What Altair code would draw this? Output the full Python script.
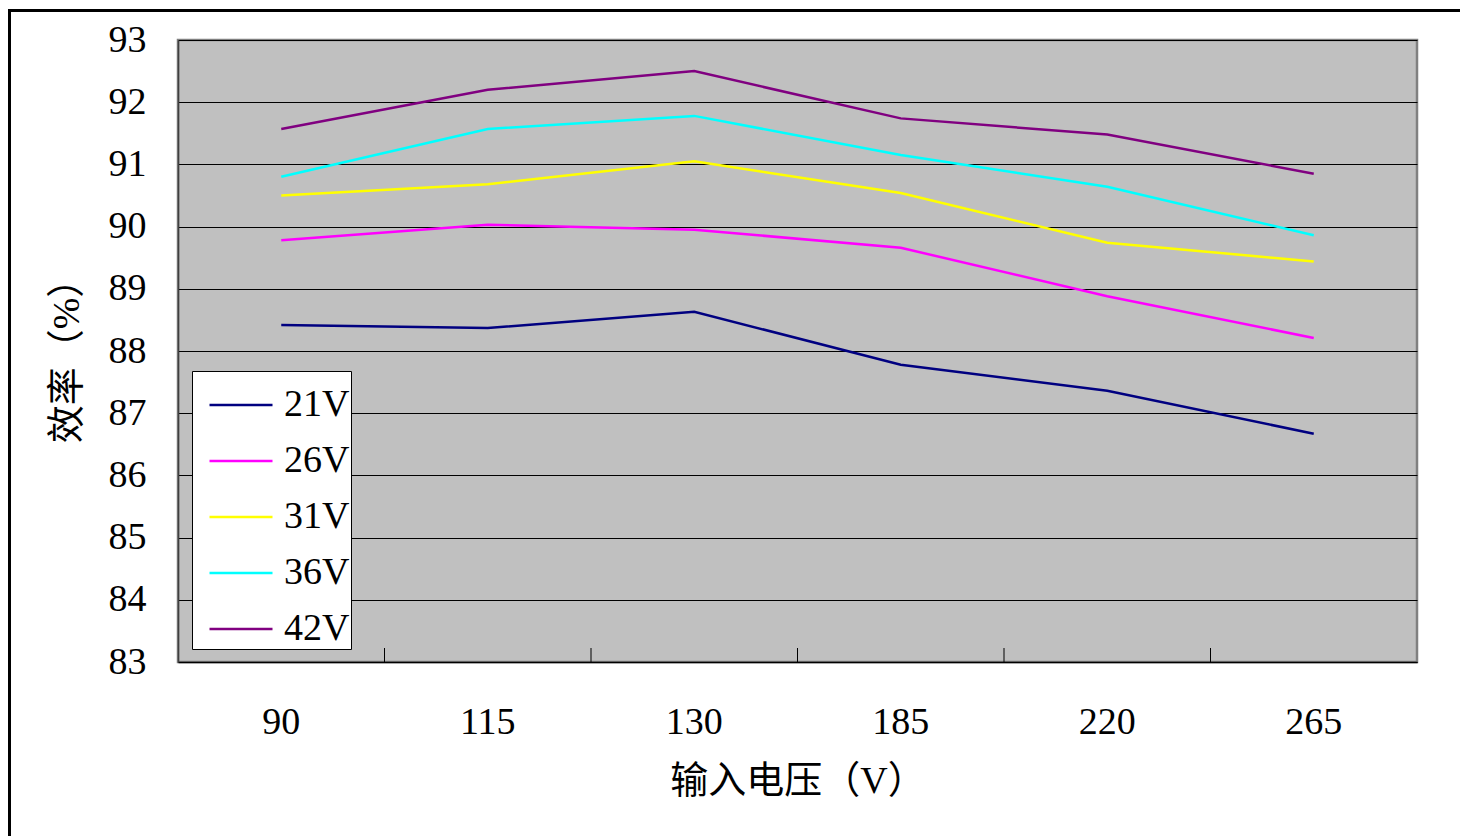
import altair as alt
import pandas as pd

vin_labels = ["90", "115", "130", "185", "220", "265"]
series_names = ["21V", "26V", "31V", "36V", "42V"]
eff_21 = [88.42, 88.37, 88.63, 87.78, 87.36, 86.67]
eff_26 = [89.78, 90.03, 89.95, 89.66, 88.88, 88.21]
eff_31 = [90.50, 90.68, 91.05, 90.54, 89.74, 89.44]
eff_36 = [90.80, 91.57, 91.78, 91.15, 90.64, 89.86]
eff_42 = [91.57, 92.20, 92.50, 91.74, 91.48, 90.85]
series_colors = ["#000080", "#FF00FF", "#FFFF00", "#00FFFF", "#800080"]
y_ticks = list(range(83, 94))

rows = []
for name, vals in zip(series_names, [eff_21, eff_26, eff_31, eff_36, eff_42]):
    for v, e in zip(vin_labels, vals):
        rows.append({"vin": v, "eff": e, "series": name})
df = pd.DataFrame(rows)

FONT = "Liberation Serif, Noto Sans CJK SC"
W, H = 1239, 622

xscale = alt.Scale(type="band", paddingInner=0, paddingOuter=0)

lines = alt.Chart(df).mark_line(strokeWidth=2.5).encode(
    x=alt.X("vin:N", sort=vin_labels, scale=xscale,
            axis=alt.Axis(title="输入电压（V）", labelAngle=0, labelAlign="center",
                          labelBaseline="top", tickSize=0,
                          labelPadding=41, labelFontSize=38, labelFont=FONT,
                          labelColor="black", titleFont=FONT, titleFontSize=38,
                          titleFontWeight="normal", titleColor="black",
                          titlePadding=21, domainColor="black", domainWidth=1.5)),
    y=alt.Y("eff:Q", scale=alt.Scale(domain=[83, 93], nice=False, zero=False),
            axis=alt.Axis(title="效率（%）", values=y_ticks, format="d", tickSize=0,
                          labelPadding=32, labelFontSize=38, labelFont=FONT,
                          labelColor="black", titleFont=FONT, titleFontSize=38,
                          titleFontWeight="normal", titleColor="black",
                          titlePadding=22, grid=True, gridColor="black",
                          gridWidth=1, domainColor="#404040", domainWidth=1.5)),
    color=alt.Color("series:N", sort=series_names,
                    scale=alt.Scale(domain=series_names, range=series_colors),
                    legend=alt.Legend(title=None, orient="none", legendX=14, legendY=331,
                                      fillColor="white", strokeColor="black",
                                      padding=1, symbolOffset=15, symbolType="stroke",
                                      symbolSize=3969, symbolStrokeWidth=2.5,
                                      labelFontSize=38, labelFont=FONT,
                                      labelColor="black", labelOffset=10,
                                      rowPadding=4)),
)

ticks = alt.Chart(pd.DataFrame({"vin": vin_labels[1:]})).mark_rule(
    color="black", strokeWidth=1
).encode(
    x=alt.X("vin:N", sort=vin_labels, scale=xscale, bandPosition=0),
    y=alt.value(H - 14),
    y2=alt.value(H),
)

frame = alt.Chart(pd.DataFrame({"k": [0]})).mark_rect(
    fill=None, stroke="black", strokeWidth=3
).encode(
    x=alt.value(-168.5), x2=alt.value(W + 200),
    y=alt.value(-29.5), y2=alt.value(H + 300),
)

chart = alt.layer(ticks, lines, frame).properties(
    width=W, height=H,
    autosize=alt.AutoSizeParams(type="none"),
    padding={"left": 178, "top": 40, "right": 43, "bottom": 174},
    background="white",
).configure_view(
    fill="#C0C0C0", stroke="#808080", strokeWidth=2.5
)

chart.save("out.html", embed_options={"renderer": "svg", "actions": False})
